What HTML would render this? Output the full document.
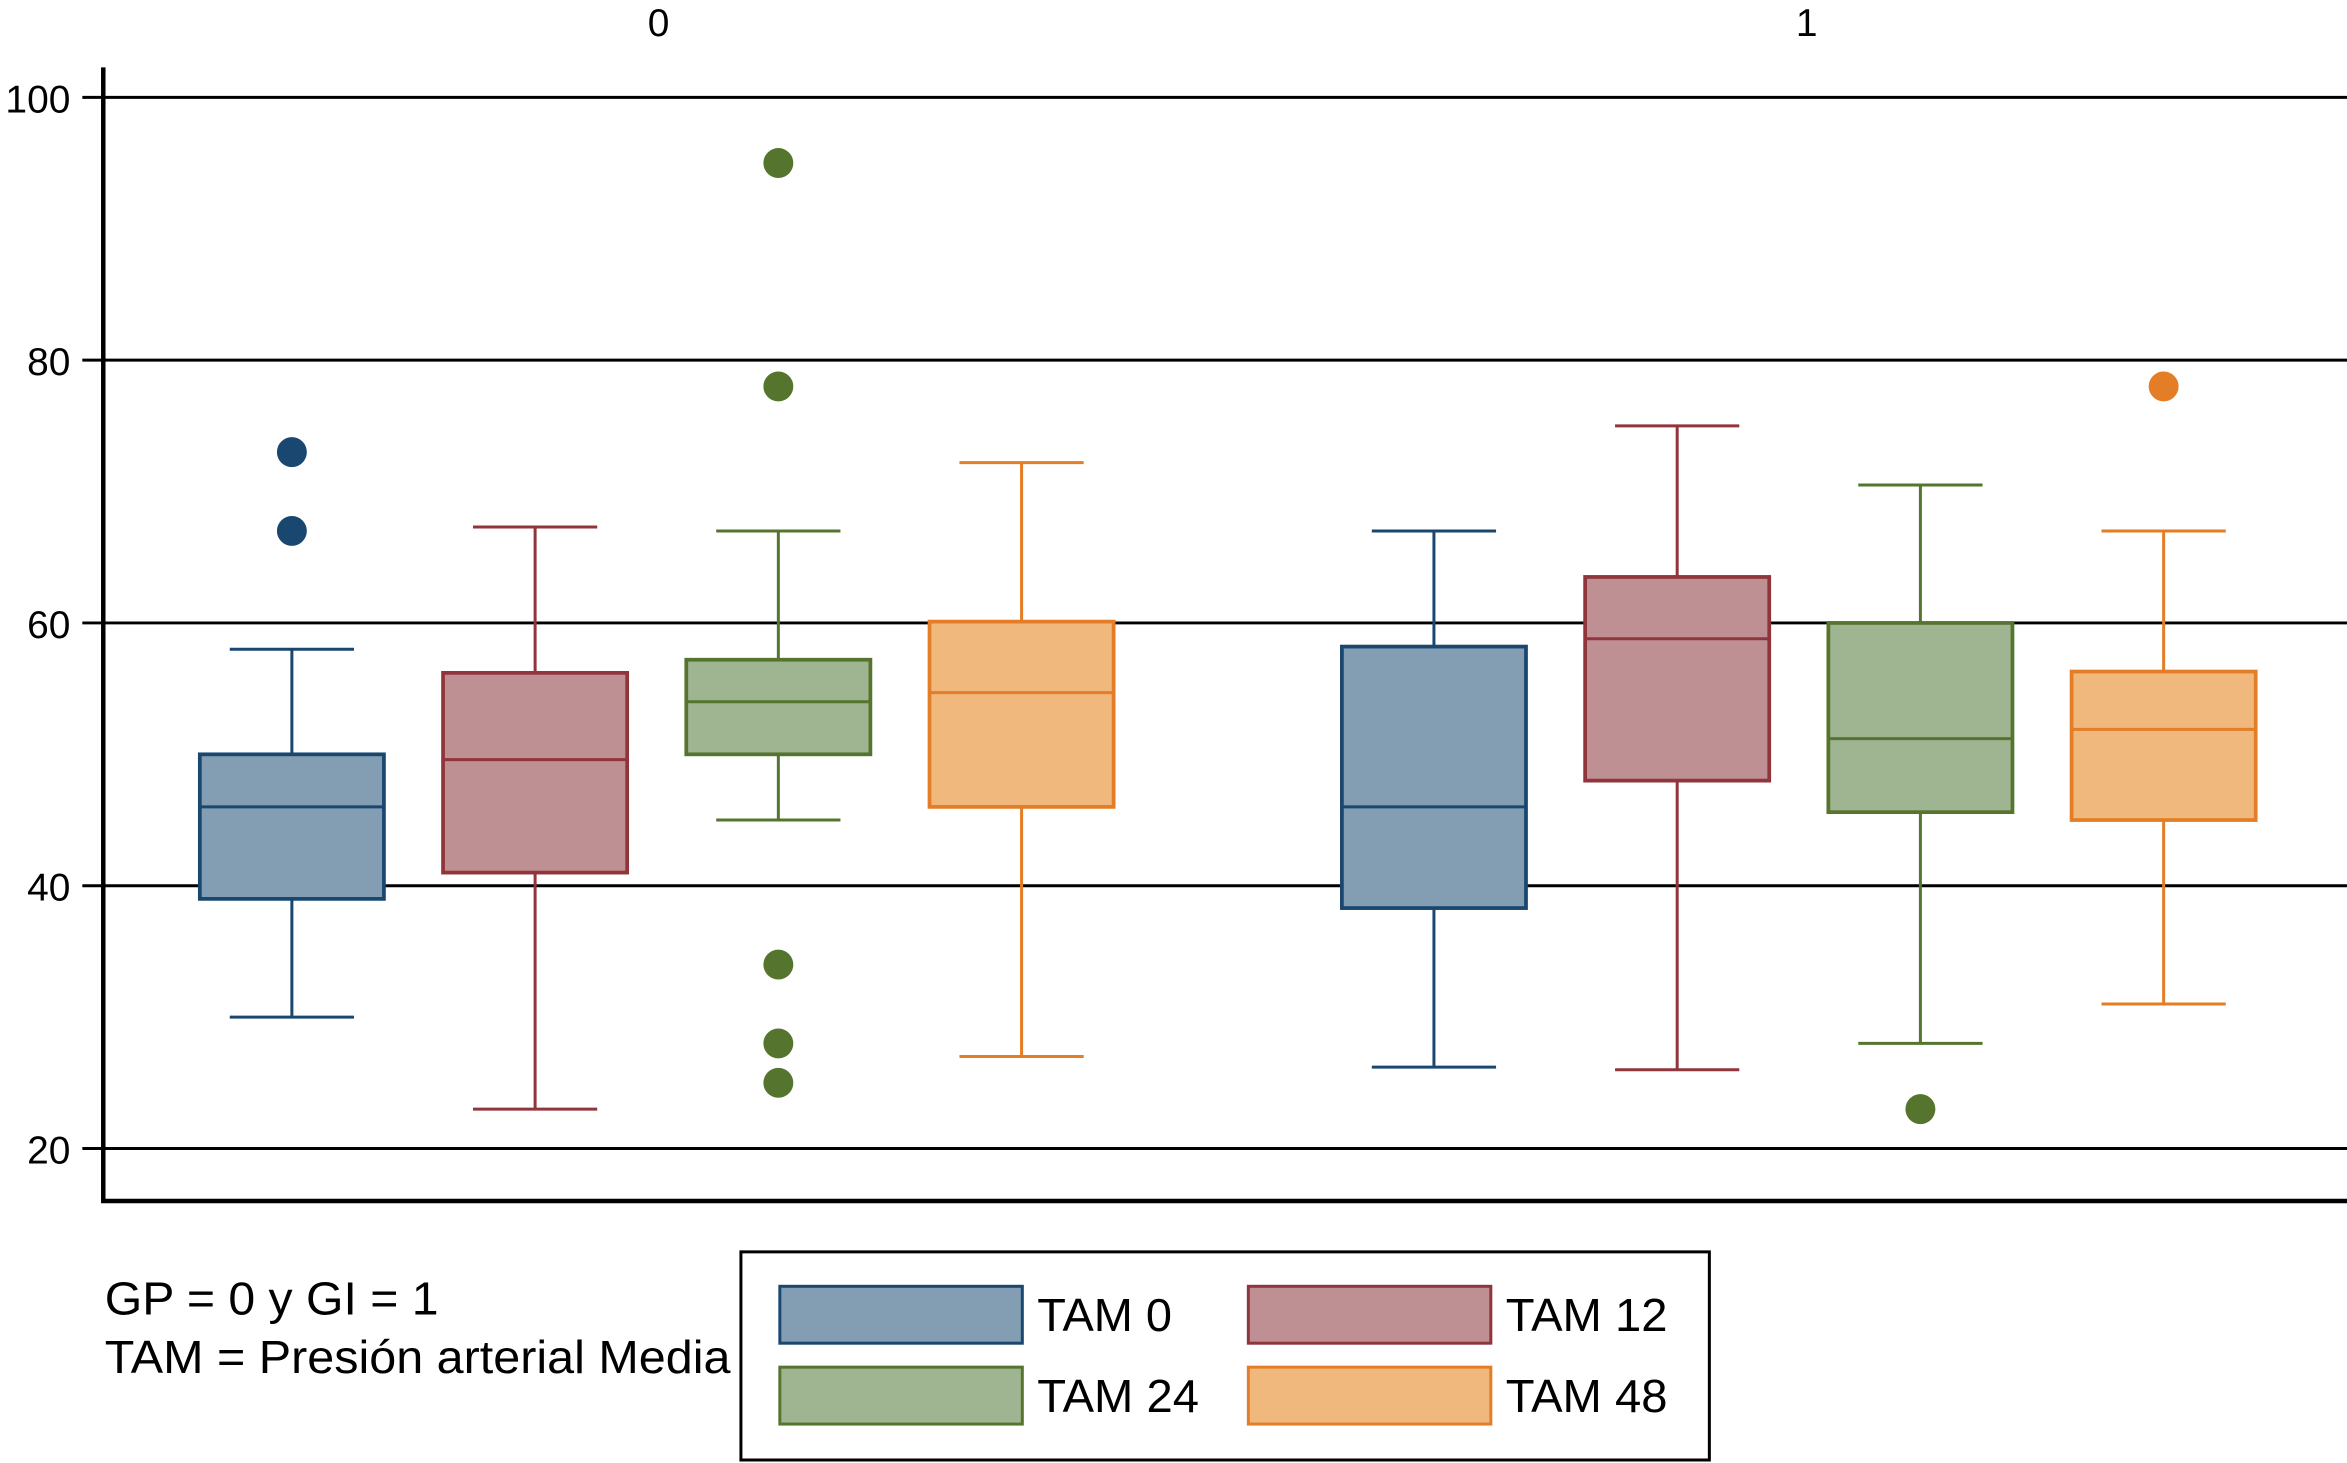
<!DOCTYPE html>
<html><head><meta charset="utf-8"><style>html,body{margin:0;padding:0;background:#fff}svg{display:block}</style></head>
<body>
<svg id="chart" width="2347" height="1463" viewBox="0 0 1568 977" preserveAspectRatio="none" xmlns="http://www.w3.org/2000/svg" font-family="'Liberation Sans', sans-serif">
<g id="grid"></g>
<g id="boxes"></g>
<g id="legend">
  <rect x="495" y="836" width="647" height="139" fill="#fff" stroke="#000" stroke-width="2"/>
</g>
<text x="70" y="878" font-size="31" textLength="223" lengthAdjust="spacingAndGlyphs">GP = 0 y GI = 1</text>
<text x="70" y="917" font-size="31" textLength="418" lengthAdjust="spacingAndGlyphs">TAM = Presión arterial Media</text>
</svg>
<script>
const groups = ["0", "1"];
const series = ["TAM 0", "TAM 12", "TAM 24", "TAM 48"];
const yTicks = [20, 40, 60, 80, 100];
const wLow = [[30, 23, 45, 27], [26.2, 26, 28, 31]];
const q1 = [[39, 41, 50, 46], [38.3, 48, 45.6, 45]];
const med = [[46, 49.6, 54, 54.7], [46, 58.8, 51.2, 51.9]];
const q3 = [[50, 56.2, 57.2, 60.1], [58.2, 63.5, 60, 56.3]];
const wHigh = [[58, 67.3, 67, 72.2], [67, 75, 70.5, 67]];
const outliers = [[[67, 73], [], [25, 28, 34, 78, 95], []], [[], [], [23], [78]]];

const fills = ["#839eb3", "#bf9093", "#9fb591", "#f0b87d"];
const strokes = ["#1a476f", "#90353b", "#55752f", "#e37e26"];
const NS = "http://www.w3.org/2000/svg";
function y(v) { return 65 + (100 - v) * 8.775; }
function xc(g, s) { return 195 + g * 763 + s * 162.5; }
function mk(tag, attrs, parent) {
  const e = document.createElementNS(NS, tag);
  for (const k in attrs) e.setAttribute(k, attrs[k]);
  parent.appendChild(e); return e;
}
const grid = document.getElementById("grid");
yTicks.forEach(t => {
  const l = mk("line", {x1: 55, x2: 1568, y1: y(t), y2: y(t), stroke: "#000", "stroke-width": 2}, grid);
  
  
  const tx = mk("text", {x: 47, y: y(t) + 10, "text-anchor": "end", "font-size": 26}, grid);
  tx.textContent = t;
  
  
});
const ax = mk("path", {d: "M69 45 V802 H1568", fill: "none", stroke: "#000", "stroke-width": 3}, grid);


groups.forEach((g, gi) => {
  const t = mk("text", {x: 440 + gi * 767, y: 24, "text-anchor": "middle", "font-size": 26}, grid);
  t.textContent = g;
  
  
});
const boxes = document.getElementById("boxes");
groups.forEach((g, gi) => {
  series.forEach((s, si) => {
    const c = xc(gi, si), col = strokes[si];
    const gEl = mk("g", {}, boxes);
    
    
    mk("line", {x1: c, x2: c, y1: y(wHigh[gi][si]), y2: y(wLow[gi][si]), stroke: col, "stroke-width": 2}, gEl);
    mk("line", {x1: c - 41.5, x2: c + 41.5, y1: y(wHigh[gi][si]), y2: y(wHigh[gi][si]), stroke: col, "stroke-width": 2}, gEl);
    mk("line", {x1: c - 41.5, x2: c + 41.5, y1: y(wLow[gi][si]), y2: y(wLow[gi][si]), stroke: col, "stroke-width": 2}, gEl);
    mk("rect", {x: c - 61.5, y: y(q3[gi][si]), width: 123, height: y(q1[gi][si]) - y(q3[gi][si]), fill: fills[si], stroke: col, "stroke-width": 2.5}, gEl);
    mk("line", {x1: c - 61.5, x2: c + 61.5, y1: y(med[gi][si]), y2: y(med[gi][si]), stroke: col, "stroke-width": 2}, gEl);
    outliers[gi][si].forEach(v => {
      const d = mk("circle", {cx: c, cy: y(v), r: 10, fill: col}, gEl);
      
      
    });
  });
});
const leg = document.getElementById("legend");
const lpos = [[521, 859], [834, 859], [521, 913], [834, 913]];
series.forEach((s, si) => {
  const [lx, ly] = lpos[si];
  const r = mk("rect", {x: lx, y: ly, width: 162, height: 38, fill: fills[si], stroke: strokes[si], "stroke-width": 2}, leg);
  
  
  const t = mk("text", {x: lx + 172, y: ly + 30, "font-size": 31, textLength: s.length > 5 ? 108 : 90, lengthAdjust: "spacingAndGlyphs"}, leg);
  t.textContent = s;
  
  
});
</script>
</body></html>
